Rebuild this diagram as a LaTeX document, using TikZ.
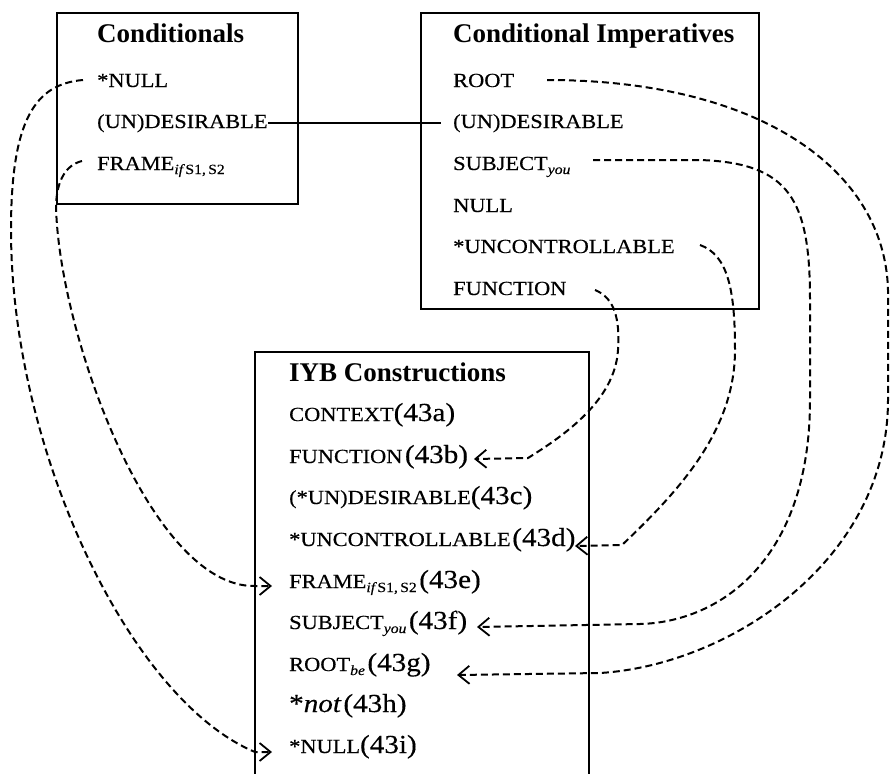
\documentclass[tikz,border=0pt]{standalone}
\usepackage{fontspec}
\setmainfont{Liberation Serif}
\newfontfamily\capf[FakeStretch=1.12,FakeBold=0.4]{Liberation Serif}
\newfontfamily\numf[FakeStretch=1.12,FakeBold=0.4]{Liberation Serif}
\usetikzlibrary{arrows.meta}
\newcommand\lab[1]{{\capf\fontsize{20}{20}\selectfont #1}}
\newcommand\num[1]{{\numf\fontsize{26}{26}\selectfont #1}}
\newcommand\subs[1]{\raisebox{-4pt}{\capf\fontsize{14}{14}\selectfont #1}}
\newcommand\hd[1]{{\fontsize{27}{27}\selectfont\bfseries #1}}
\begin{document}
\begin{tikzpicture}[x=1pt,y=-1pt,
  box/.style={line width=2pt},
  txt/.style={anchor=base west, inner sep=0pt},
  solidconn/.style={line width=2pt},
  conn/.style={line width=2pt, dash pattern=on 7pt off 4pt},
  arr/.style={conn, -{Straight Barb[length=11pt,width=18pt,line width=1.8pt]}}]
\useasboundingbox (0,0) rectangle (892,774);
% boxes
\draw[box] (57,13) rectangle (298,204);
\draw[box] (421,13) rectangle (759,309);
\draw[box] (255,774) -- (255,352) -- (589,352) -- (589,774);
% Conditionals
\node[txt] (c0) at (97,42) {\hd{Conditionals}};
\node[txt] (c1) at (97,87) {\lab{*NULL}};
\node[txt] (c2) at (97,128) {\lab{(UN)DESIRABLE}};
\node[txt] (c3) at (97,170) {\lab{FRAME}\subs{\itshape if\,\upshape S1,\,S2}};
% Conditional Imperatives
\node[txt] (i0) at (453,42) {\hd{Conditional Imperatives}};
\node[txt] (i1) at (453,87) {\lab{ROOT}};
\node[txt] (i2) at (453,128) {\lab{(UN)DESIRABLE}};
\node[txt] (i3) at (453,170) {\lab{SUBJECT}\subs{\itshape you}};
\node[txt] (i4) at (453,212) {\lab{NULL}};
\node[txt] (i5) at (453,253) {\lab{*UNCONTROLLABLE}};
\node[txt] (i6) at (453,295) {\lab{FUNCTION}};
% IYB
\node[txt] (y0) at (289,381) {\hd{IYB Constructions}};
\node[txt] (y1) at (289,421) {\lab{CONTEXT}\num{(43a)}};
\node[txt] (y2) at (289,463) {\lab{FUNCTION} \num{(43b)}};
\node[txt] (y3) at (289,504) {\lab{(*UN)DESIRABLE}\num{(43c)}};
\node[txt] (y4) at (289,546) {\lab{*UNCONTROLLABLE}\,\num{(43d)}};
\node[txt] (y5) at (289,588) {\lab{FRAME}\subs{\itshape if\,\upshape S1,\,S2} \num{(43e)}};
\node[txt] (y6) at (289,629) {\lab{SUBJECT}\subs{\itshape you} \num{(43f)}};
\node[txt] (y7) at (289,671) {\lab{ROOT}\subs{\itshape be} \num{(43g)}};
\node[txt] (y8) at (289,712) {\num{*\itshape not} \num{(43h)}};
\node[txt] (y9) at (289,753) {\lab{*NULL}\num{(43i)}};
% endpoints
\coordinate (s1) at (83,80);   \coordinate (t1) at (272,752);
\coordinate (s2) at (82,161);  \coordinate (t2) at (272,586);
\coordinate (s4) at (547,80);  \coordinate (t4) at (457,675);
\coordinate (s5) at (593,160); \coordinate (t5) at (477,627);
\coordinate (s6) at (700,245); \coordinate (t6) at (575,546);
\coordinate (s7) at (595,290); \coordinate (t7) at (474,459);
% solid link
\draw[solidconn] (c2.east) -- ([xshift=-12pt]i2.west);
% dashed links
\draw[arr] (s1) .. controls (35,84) and (11,120) .. (11,230)
  .. controls (11,450) and (130,700) .. (255,752) -- (t1);
\draw[arr] (s2) .. controls (66,165) and (57,180) .. (56,205)
  .. controls (58,330) and (150,588) .. (255,586) -- (t2);
\draw[arr] (s4) .. controls (760,80) and (885,170) .. (888,290) -- (888,400)
  .. controls (888,560) and (730,665) .. (600,673) -- (t4);
\draw[arr] (s5) -- (700,160) .. controls (790,163) and (810,200) .. (810,300) -- (810,400)
  .. controls (810,560) and (720,622) .. (640,624) -- (t5);
\draw[arr] (s6) .. controls (728,255) and (735,290) .. (735,350)
  .. controls (735,430) and (680,490) .. (622,545) -- (t6);
\draw[arr] (s7) .. controls (615,298) and (620,320) .. (618,350)
  .. controls (615,400) and (565,435) .. (528,458) -- (t7);
\end{tikzpicture}
\end{document}
